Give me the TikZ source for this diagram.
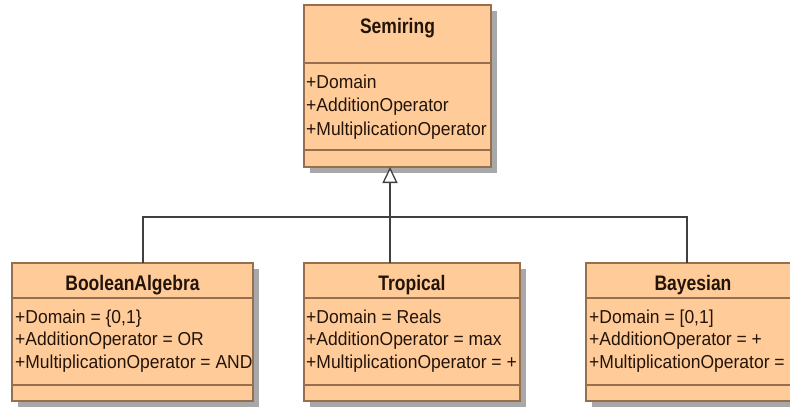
\documentclass[tikz,border=0pt]{standalone}
\usepackage{fontspec}
\setmainfont{Liberation Sans}
\usetikzlibrary{shadows,arrows.meta,calc}
\definecolor{classfill}{RGB}{255,204,153}
\definecolor{classline}{RGB}{150,112,78}
\definecolor{classtext}{RGB}{35,20,10}
\definecolor{linkcol}{RGB}{64,64,64}
\definecolor{shadowcol}{RGB}{168,168,168}
\begin{document}
\begin{tikzpicture}[x=1pt,y=-1pt,
  classbox/.style={draw=classline, line width=1.2pt, fill=classfill,
    inner sep=0pt, outer sep=0pt, anchor=north west,
    drop shadow={shadow xshift=6pt, shadow yshift=-6pt, fill=shadowcol, opacity=1}},
  sepline/.style={draw=classline, line width=1.2pt},
  classtitle/.style={font=\fontsize{17.5pt}{21pt}\selectfont\bfseries, text=classtext,
    inner sep=0pt, anchor=base, yscale=1.2},
  attr/.style={font=\fontsize{17.5pt}{21pt}\selectfont, text=classtext,
    inner sep=0pt, anchor=base west, yscale=1.07},
  link/.style={draw=linkcol, line width=1.3pt},
  generalize/.style={link, -{Triangle[open, length=16pt, width=15pt, fill=white]}}]
\useasboundingbox (0,0) rectangle (790,408);
\clip (0,0) rectangle (790,408);

% Semiring
\node[classbox, minimum width=187pt, minimum height=162pt] (semi) at (304,5) {};
\draw[sepline] ($(semi.north west)+(0,58)$) -- ($(semi.north east)+(0,58)$);
\draw[sepline] ($(semi.north west)+(0,145)$) -- ($(semi.north east)+(0,145)$);
\node[classtitle] (semi-t) at ($(semi.north)+(0,28)$) {Semiring};
\node[attr] (semi-a1) at ($(semi.north west)+(2,83)$) {+Domain};
\node[attr] (semi-a2) at ($(semi.north west)+(2,106.5)$) {+AdditionOperator};
\node[attr] (semi-a3) at ($(semi.north west)+(2,130)$) {+MultiplicationOperator};

% BooleanAlgebra
\node[classbox, minimum width=241pt, minimum height=138pt] (bool) at (12,263) {};
\draw[sepline] ($(bool.north west)+(0,35)$) -- ($(bool.north east)+(0,35)$);
\draw[sepline] ($(bool.north west)+(0,122)$) -- ($(bool.north east)+(0,122)$);
\node[classtitle] (bool-t) at ($(bool.north)+(0,27)$) {BooleanAlgebra};
\node[attr] (bool-a1) at ($(bool.north west)+(3,60)$) {+Domain = \{0,1\}};
\node[attr] (bool-a2) at ($(bool.north west)+(3,82.5)$) {+AdditionOperator = OR};
\node[attr] (bool-a3) at ($(bool.north west)+(3,105)$) {+MultiplicationOperator = AND};

% Tropical
\node[classbox, minimum width=216pt, minimum height=138pt] (trop) at (304,263) {};
\draw[sepline] ($(trop.north west)+(0,35)$) -- ($(trop.north east)+(0,35)$);
\draw[sepline] ($(trop.north west)+(0,122)$) -- ($(trop.north east)+(0,122)$);
\node[classtitle] (trop-t) at ($(trop.north)+(0,27)$) {Tropical};
\node[attr] (trop-a1) at ($(trop.north west)+(2,60)$) {+Domain = Reals};
\node[attr] (trop-a2) at ($(trop.north west)+(2,82.5)$) {+AdditionOperator = max};
\node[attr] (trop-a3) at ($(trop.north west)+(2,105)$) {+MultiplicationOperator = +};

% Bayesian (runs past the right edge of the sheet)
\node[classbox, minimum width=214pt, minimum height=138pt] (bayes) at (586,263) {};
\draw[sepline] ($(bayes.north west)+(0,35)$) -- ($(bayes.north east)+(0,35)$);
\draw[sepline] ($(bayes.north west)+(0,122)$) -- ($(bayes.north east)+(0,122)$);
\node[classtitle] (bayes-t) at ($(bayes.north)+(0,27)$) {Bayesian};
\node[attr] (bayes-a1) at ($(bayes.north west)+(3,60)$) {+Domain = [0,1]};
\node[attr] (bayes-a2) at ($(bayes.north west)+(3,82.5)$) {+AdditionOperator = +};
\node[attr] (bayes-a3) at ($(bayes.north west)+(3,105)$) {+MultiplicationOperator = +};

% Generalization tree
\coordinate (hub) at (390,217);
\coordinate (kb) at (143,217);
\coordinate (kr) at (687,217);
\draw[link] (kb |- bool.north) -- (kb) -- (kr) -- (kr |- bayes.north);
\draw[link] (hub |- trop.north) -- (hub);
\draw[generalize] (hub) -- (hub |- semi.south);
\end{tikzpicture}
\end{document}
